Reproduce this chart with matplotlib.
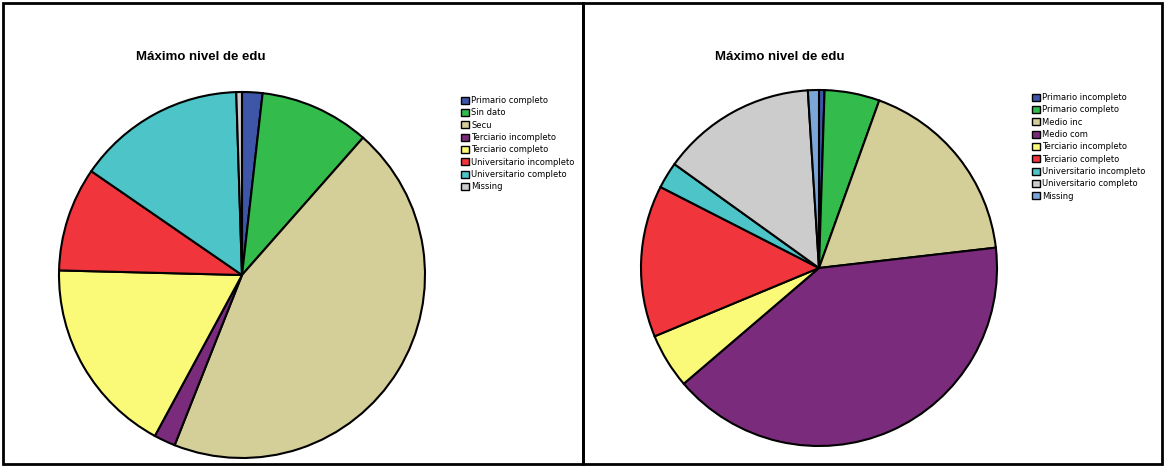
import matplotlib
matplotlib.use("Agg")
import matplotlib.pyplot as plt
from matplotlib.patches import Rectangle, Patch

title = "Máximo nivel de edu"

left_labels = ["Primario completo", "Sin dato", "Secu", "Terciario incompleto",
               "Terciario completo", "Universitario incompleto",
               "Universitario completo", "Missing"]
left_values = [1.8, 9.7, 44.5, 1.9, 17.5, 9.2, 14.9, 0.5]
left_colors = ["#3d56a8", "#33bb4c", "#d4cf98", "#7b2b7b", "#fafa78",
               "#f0353c", "#4cc4c8", "#cccccc"]

right_labels = ["Primario incompleto", "Primario completo", "Medio inc",
                "Medio com", "Terciario incompleto", "Terciario completo",
                "Universitario incompleto", "Universitario completo", "Missing"]
right_values = [0.5, 5.0, 17.7, 40.6, 5.0, 13.8, 2.4, 14.1, 1.0]
right_colors = ["#3d56a8", "#33bb4c", "#d4cf98", "#7b2b7b", "#fafa78",
                "#f0353c", "#4cc4c8", "#cccccc", "#7aa7d8"]

W, H = 1164, 466
fig = plt.figure(figsize=(W / 100, H / 100), dpi=100)
fig.patch.set_facecolor("white")

# panel borders
for x0, x1 in [(3, 583), (583, 1162)]:
    fig.patches.append(Rectangle((x0 / W, 2 / H), (x1 - x0) / W, (H - 5) / H,
                                 transform=fig.transFigure, fill=False,
                                 edgecolor="black", linewidth=2))


def add_pie(cx, cy, r, values, colors, labels, title_x, leg_x, leg_y):
    ax = fig.add_axes([(cx - r) / W, (H - cy - r) / H, 2 * r / W, 2 * r / H])
    wedges, _ = ax.pie(values, colors=colors, startangle=90, counterclock=False,
                       wedgeprops=dict(edgecolor="black", linewidth=1.5))
    ax.set_aspect("equal")
    ax.set_xlim(-1.0, 1.0)
    ax.set_ylim(-1.0, 1.0)
    fig.text(title_x / W, 1 - 57 / H, title, ha="center", va="center",
             fontsize=9.5, fontweight="bold", family="Liberation Sans")
    handles = [Patch(facecolor=c, edgecolor="black", linewidth=1) for c in colors]
    fig.legend(handles, labels, loc="upper left",
               bbox_to_anchor=(leg_x / W, 1 - leg_y / H),
               frameon=False, handlelength=0.9, handleheight=0.9,
               handletextpad=0.3, labelspacing=0.4, borderpad=0, borderaxespad=0,
               prop=dict(family="DejaVu Sans", size=6))


add_pie(242, 275, 183, left_values, left_colors, left_labels, 201, 461, 96)
add_pie(819, 268, 178, right_values, right_colors, right_labels, 780, 1032, 93)

fig.savefig("out.png", dpi=100, facecolor="white")
